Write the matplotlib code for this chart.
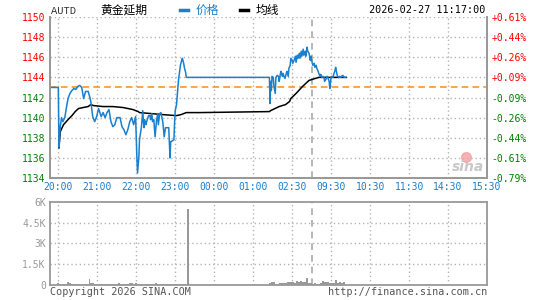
"""Intraday chart for AUTD (gold deferred), Sina style."""

import matplotlib
matplotlib.use("Agg")
import matplotlib.pyplot as plt

# minutes since 20:00 on the trading-session axis (night 20:00-02:30, day 09:00-15:30)
price_minutes = [
    -13, 0, 1, 3, 5, 7, 10, 13, 15, 18, 21, 24, 27, 30, 33, 36, 39, 42, 46, 49,
    50, 53, 56, 59, 62, 66, 69, 72, 75, 78, 81, 84, 87, 90, 95, 98, 101, 104,
    107, 110, 113, 116, 119, 121, 122, 124, 125, 128, 130, 131, 132, 133, 135,
    136, 138, 139, 141, 142, 144, 145, 147, 149, 151, 153, 154, 156, 158, 159,
    161, 163, 165, 170, 171, 172, 173, 178, 179, 180, 182, 184, 185, 187, 188,
    190, 191, 193, 194, 196, 197, 325, 326, 327, 328, 329, 331, 332, 334, 335,
    337, 339, 340, 342, 343, 345, 346, 348, 349, 351, 352, 354, 355, 357, 358,
    360, 361, 363, 365, 366, 368, 369, 371, 372, 374, 375, 377, 378, 380, 381,
    383, 384, 386, 388, 389, 391, 392, 394, 395, 397, 398, 400, 401, 403, 404,
    406, 407, 409, 410, 412, 414, 415, 417, 418, 420, 421, 423, 424, 426, 427,
    429, 430, 432, 433, 435, 436, 438, 440, 442,
]
prices = [
    1143.0, 1143.0, 1137.1, 1139.1, 1140.0, 1139.6, 1140.0, 1141.2, 1141.9,
    1142.4, 1142.7, 1142.9, 1142.8, 1143.1, 1143.2, 1143.0, 1141.9, 1142.6,
    1142.6, 1141.9, 1141.6, 1140.1, 1139.6, 1140.1, 1140.9, 1140.1, 1140.5,
    1140.0, 1140.5, 1140.8, 1139.6, 1139.1, 1139.3, 1140.0, 1140.0, 1139.1,
    1138.8, 1138.3, 1138.8, 1139.6, 1140.0, 1139.3, 1140.1, 1136.0, 1134.5,
    1136.1, 1137.8, 1139.1, 1140.7, 1139.6, 1139.0, 1139.8, 1139.3, 1139.6,
    1140.0, 1140.2, 1140.2, 1139.8, 1140.4, 1139.6, 1139.8, 1138.1, 1139.6,
    1140.4, 1139.3, 1140.4, 1140.5, 1140.2, 1139.5, 1138.1, 1139.0, 1139.0,
    1137.6, 1136.0, 1137.6, 1137.8, 1139.5, 1140.7, 1141.3, 1142.9, 1143.7,
    1144.7, 1145.2, 1145.7, 1145.9, 1145.4, 1145.0, 1144.5, 1144.0, 1144.0,
    1141.4, 1143.6, 1142.7, 1144.1, 1144.0, 1143.1, 1142.4, 1144.0, 1144.2,
    1144.1, 1143.6, 1144.4, 1144.6, 1144.1, 1144.4, 1144.0, 1143.9, 1144.4,
    1144.6, 1144.1, 1144.9, 1145.2, 1145.9, 1145.7, 1145.4, 1145.7, 1146.1,
    1145.5, 1146.2, 1145.9, 1146.4, 1145.9, 1146.6, 1146.1, 1146.8, 1146.2,
    1146.6, 1146.1, 1147.0, 1146.6, 1146.4, 1145.7, 1146.1, 1145.4, 1145.2,
    1145.4, 1145.0, 1145.2, 1144.9, 1144.6, 1144.4, 1144.1, 1144.3, 1144.0,
    1144.1, 1144.0, 1143.6, 1143.8, 1144.1, 1144.0, 1143.6, 1142.9, 1144.0,
    1144.1, 1144.0, 1144.3, 1144.7, 1145.0, 1144.3, 1144.1, 1144.0, 1144.1,
    1144.0, 1144.1, 1144.2, 1144.0, 1144.0,
]

avg_minutes = [1, 3, 8, 15, 21, 26, 31, 38, 46, 50, 54, 69, 84, 100, 115, 123,
               125, 161, 182, 189, 197, 217, 325, 327, 340, 350, 356, 358, 366,
               376, 386, 391, 401, 443]
avg_prices = [1137.0, 1138.6, 1139.3, 1139.8, 1140.2, 1140.6, 1140.9, 1141.0,
              1141.1, 1141.3, 1141.2, 1141.1, 1141.1, 1141.0, 1140.8, 1140.6,
              1140.5, 1140.3, 1140.2, 1140.3, 1140.5, 1140.5, 1140.6, 1140.7,
              1141.1, 1141.3, 1141.6, 1141.9, 1142.4, 1143.1, 1143.7, 1143.8,
              1144.0, 1144.0]

vol_minutes = [
    0, 3, 6, 9, 12, 15, 18, 21, 24, 27, 30, 33, 36, 39, 42, 45, 48, 51, 54, 57,
    60, 63, 66, 69, 72, 75, 78, 81, 84, 87, 90, 93, 96, 99, 102, 105, 108, 111,
    114, 117, 120, 123, 126, 129, 132, 135, 138, 141, 144, 147, 150, 153, 156,
    159, 162, 165, 168, 171, 174, 177, 180, 183, 186, 189, 192, 195, 199,
    326, 329, 332, 335, 338, 341, 344, 347, 350, 353, 356, 359, 362, 365, 368,
    371, 374, 377, 380, 383, 386, 389, 392, 395, 398, 401, 404, 407, 410, 413,
    416, 419, 422, 425, 428, 431, 434, 437, 440,
]
volumes = [
    130, 90, 70, 60, 70, 200, 110, 60, 50, 60, 50, 60, 70, 60, 50, 60, 410,
    180, 140, 60, 50, 60, 70, 50, 60, 50, 60, 70, 60, 60, 60, 140, 60, 50, 60,
    70, 60, 140, 130, 60, 150, 90, 60, 70, 60, 50, 60, 60, 60, 60, 130, 70, 60,
    50, 60, 60, 60, 50, 70, 60, 60, 70, 60, 60, 70, 60, 5450,
    140, 200, 200, 90, 80, 110, 140, 130, 180, 200, 190, 210, 200, 150, 280,
    200, 280, 210, 200, 480, 150, 120, 100, 110, 100, 90, 130, 280, 200, 190,
    200, 150, 180, 170, 360, 140, 200, 150, 200,
]

pre_close = 1143.0
price_ticks = [1134, 1136, 1138, 1140, 1142, 1144, 1146, 1148, 1150]
vol_ticks = [0, 1500, 3000, 4500, 6000]
vol_tick_labels = ["0", "1.5K", "3K", "4.5K", "6K"]
time_ticks = [0, 60, 120, 180, 240, 300, 360, 420, 480, 540, 600, 660]
time_labels = ["20:00", "21:00", "22:00", "23:00", "00:00", "01:00",
               "02:30", "09:30", "10:30", "11:30", "14:30", "15:30"]
session_break = 390

BLUE = "#1a7fcc"
RED = "#ff0000"
GREEN = "#008000"
GRID = "#b4b4b4"
FRAME = "#999999"
MONO = "DejaVu Sans Mono"
CJK = ["Noto Sans CJK SC", "DejaVu Sans"]
FS = 7

W, H = 540, 300
fig = plt.figure(figsize=(W / 100, H / 100), dpi=100)
fig.patch.set_facecolor("white")


def fpos(px, py):
    return px / W, 1 - py / H


ax = fig.add_axes([50 / W, 1 - 178 / H, 437 / W, 161 / H])
axv = fig.add_axes([50 / W, 1 - 285 / H, 437 / W, 83.3 / H])

x_min, x_max = -12.8, 660

# ---- price panel ----
ax.set_xlim(x_min, x_max)
ax.set_ylim(1134, 1150)
for t in price_ticks[1:]:
    ax.axhline(t, color=GRID, lw=1, ls=(0, (1, 2)), zorder=1)
for t in time_ticks[:-1]:
    ax.axvline(t, color=GRID, lw=1, ls=(0, (1, 2)), zorder=1)
ax.axvline(session_break, color="#aaaaaa", lw=1.2, ls=(0, (4, 3)), zorder=1)
ax.axhline(pre_close, color="#ff9326", lw=1.2, ls=(0, (4, 2.5)), zorder=2)

ax.plot(avg_minutes, avg_prices, color="black", lw=1.1, zorder=3)
ax.plot(price_minutes, prices, color=BLUE, lw=1.1, zorder=4)

ax.set_yticks(price_ticks)
ax.set_yticklabels([str(t) for t in price_ticks], fontsize=FS, family=MONO)
for lbl, t in zip(ax.get_yticklabels(), price_ticks):
    lbl.set_color(RED if t > pre_close else GREEN)
ax.set_xticks(time_ticks)
ax.set_xticklabels(time_labels, fontsize=FS, family=MONO, color=BLUE)
ax.tick_params(length=0, pad=3)

axr = ax.twinx()
axr.set_ylim(ax.get_ylim())
axr.set_yticks(price_ticks)
pct_labels = [f"{(t - pre_close) / pre_close * 100:+.2f}%" for t in price_ticks]
axr.set_yticklabels(pct_labels, fontsize=FS, family=MONO)
for lbl, t in zip(axr.get_yticklabels(), price_ticks):
    lbl.set_color(RED if t > pre_close else GREEN)
axr.tick_params(length=0, pad=3)

for a in (ax, axr):
    for side, sp in a.spines.items():
        sp.set_color(FRAME)
        sp.set_linewidth(1.3)
    a.spines["top"].set_visible(False)

# ---- volume panel ----
axv.set_xlim(x_min, x_max)
axv.set_ylim(0, 6000)
for t in vol_ticks[1:-1]:
    axv.axhline(t, color=GRID, lw=1, ls=(0, (1, 2)), zorder=1)
for t in time_ticks[:-1]:
    axv.axvline(t, color=GRID, lw=1, ls=(0, (1, 2)), zorder=1)
axv.axvline(session_break, color="#aaaaaa", lw=1.2, ls=(0, (4, 3)), zorder=1)
axv.bar(vol_minutes, volumes, width=3, color="#999999", linewidth=0, zorder=3)
axv.set_yticks(vol_ticks)
axv.set_yticklabels(vol_tick_labels, fontsize=FS, family=MONO, color="#999999")
axv.set_xticks([])
axv.tick_params(length=0, pad=3)
for sp in axv.spines.values():
    sp.set_color(FRAME)
    sp.set_linewidth(1.3)

# ---- header ----
fig.text(*fpos(51, 11), "AUTD", fontsize=FS + 0.5, family="Liberation Mono",
         color="#333333", va="center", ha="left")
fig.text(*fpos(100, 10), "黄金延期", fontsize=8.5, family=CJK,
         color="black", va="center", ha="left")
fig.lines.append(plt.Line2D([180 / W, 188 / W], [1 - 10 / H] * 2,
                            transform=fig.transFigure, color=BLUE, lw=2.5))
fig.text(*fpos(196, 10), "价格", fontsize=8.5, family=CJK, color=BLUE,
         va="center", ha="left")
fig.lines.append(plt.Line2D([240 / W, 248 / W], [1 - 10 / H] * 2,
                            transform=fig.transFigure, color="black", lw=2.5))
fig.text(*fpos(256, 10), "均线", fontsize=8.5, family=CJK, color="black",
         va="center", ha="left")
fig.text(*fpos(485, 10), "2026-02-27 11:17:00", fontsize=FS + 0.3,
         family=MONO, color="black", va="center", ha="right")

# ---- footer ----
fig.text(*fpos(50, 292), "Copyright 2026 SINA.COM", fontsize=FS + 0.3,
         family=MONO, color="#555555", va="center", ha="left")
fig.text(*fpos(487, 292), "http://finance.sina.com.cn", fontsize=FS + 0.3,
         family=MONO, color="#555555", va="center", ha="right")

# ---- sina watermark ----
fig.lines.append(plt.Line2D([466 / W], [1 - 157 / H], transform=fig.transFigure,
                            marker="o", markersize=7, color="#f4a0a0",
                            alpha=0.8, linestyle="none"))
fig.text(*fpos(468, 167), "sina", fontsize=10, fontweight="bold",
         style="italic", color="#c8c8c8", ha="center", va="center")

fig.savefig("out.png", dpi=100)
